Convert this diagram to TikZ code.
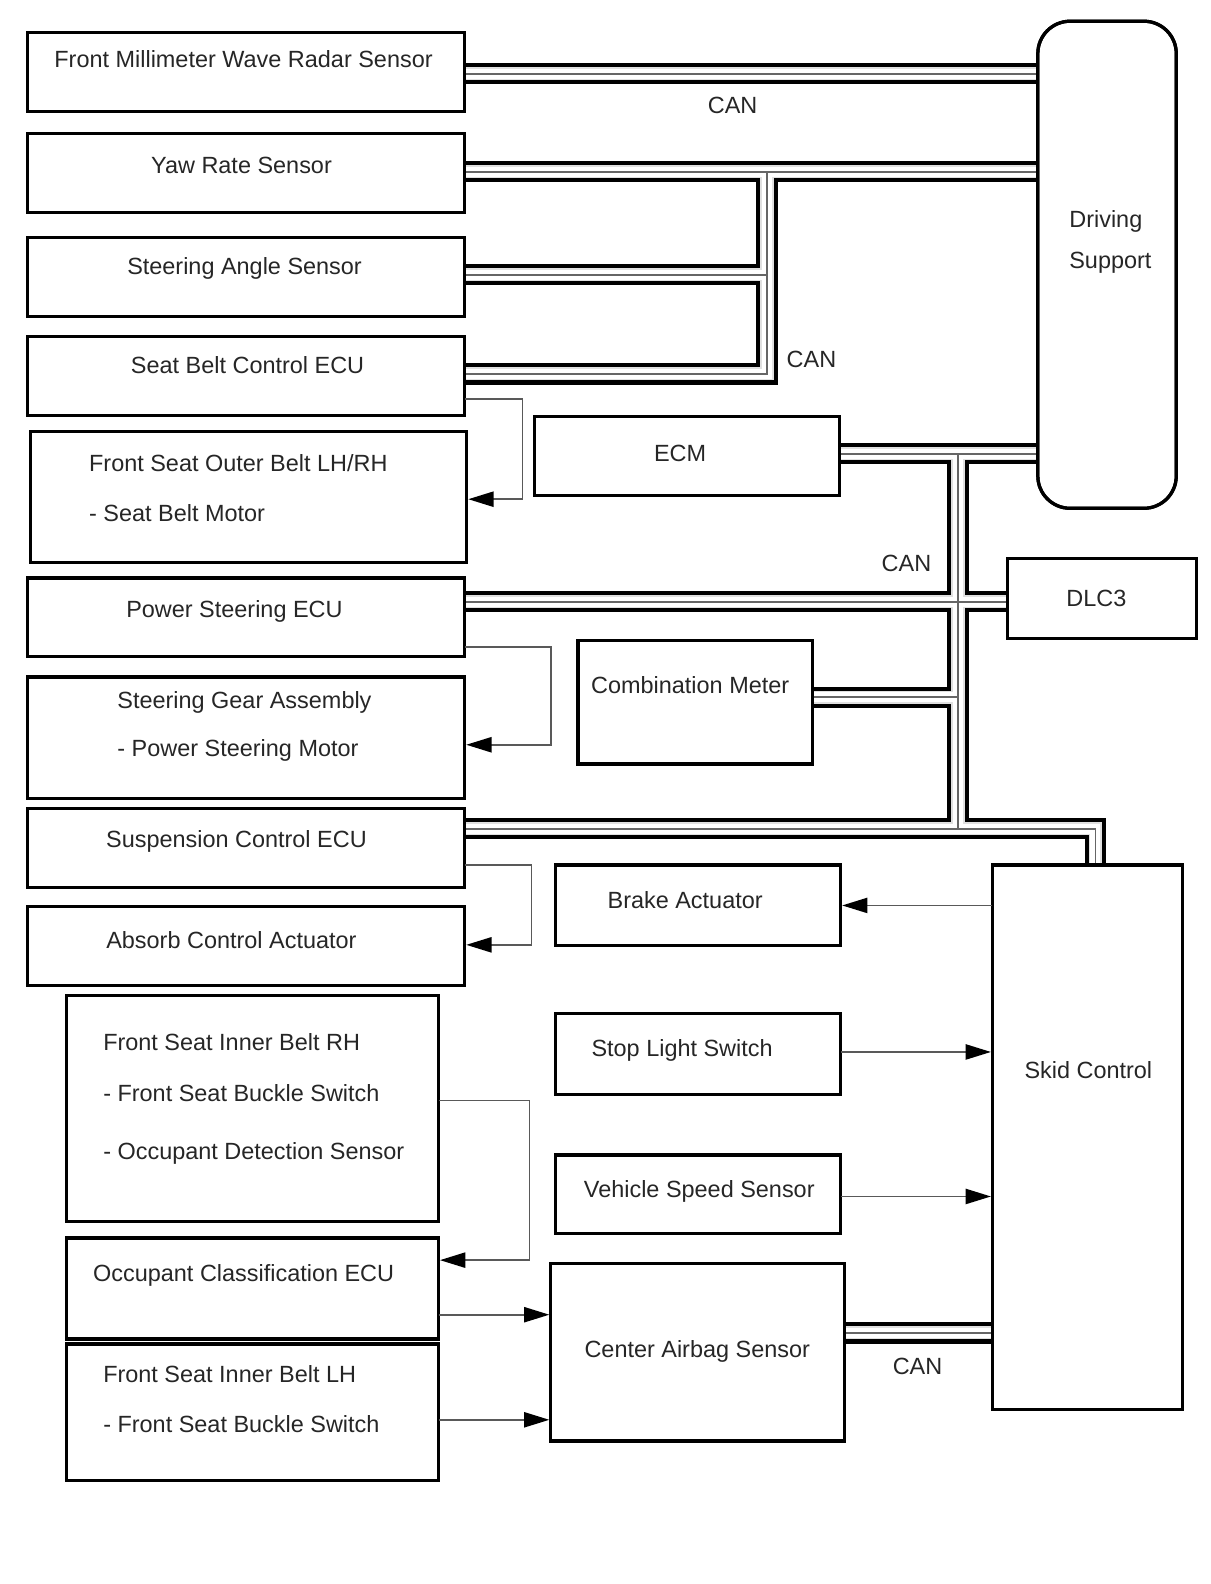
\documentclass[tikz,border=0pt]{standalone}
\usepackage{fontspec}
\setmainfont{Liberation Sans}
\usetikzlibrary{arrows.meta}
\newcommand\bx[6][]{\node[box,#1,minimum width={#5pt-#3pt},minimum height={#6pt-#4pt}] (#2) at (#3,#4) {};}
\newcommand\canbus[1]{%
  \draw[line width=21pt,black] #1;
  \draw[line width=13pt,black!12] #1;
  \draw[line width=10pt,white] #1;
  \draw[line width=1.8pt,black!60] #1;}
\begin{document}
\begin{tikzpicture}[x=1pt,y=-1pt,
  box/.style={draw=black,line width=3.2pt,rectangle,inner sep=0pt,outer sep=0pt,anchor=north west},
  lbl/.style={font=\fontsize{23.2}{28}\selectfont,inner sep=0pt,text=black!85},
  lblc/.style={lbl,anchor=base},
  lbll/.style={lbl,anchor=base west},
  conn/.style={draw=black!65,line width=1.8pt,shorten >=1.4pt,-{Triangle[length=25pt,width=15pt,color=black]}}]
\useasboundingbox (0,0) rectangle (1197.4,1567.5);
% coordinates for bus levels and connector corners
\coordinate (cA) at (0,73);
\coordinate (bB1) at (759,170);
\coordinate (bB2) at (759,272);
\coordinate (bB3) at (759,370);
\coordinate (cC1) at (948,449);
\coordinate (cC2) at (948,595.5);
\coordinate (cC3) at (948,690);
\coordinate (cC4) at (948,820);
\coordinate (cC5) at (1084,820);
\coordinate (cD) at (0,1319);
\coordinate (k1) at (517,395);   \coordinate (k1e) at (517,494);
\coordinate (k2) at (545,640);   \coordinate (k2e) at (545,737);
\coordinate (k3) at (526,856);   \coordinate (k3e) at (526,935);
\coordinate (k4) at (524,1089);  \coordinate (k4e) at (524,1247);
\coordinate (k5) at (0,1301);
\coordinate (k6) at (0,1405);
\coordinate (k7) at (0,896);
\coordinate (k8) at (0,1041);
\coordinate (k9) at (0,1184);
% boxes (drawn as named nodes)
\bx{fmw}{27}{32}{460}{110}
\bx{yaw}{27}{132}{460}{210}
\bx{sas}{27}{235}{460}{313}
\bx{sbc}{27}{333}{460}{411}
\bx{fso}{30}{427}{462}{557}
\bx{ps}{27}{572}{460}{650}
\bx{sga}{27}{670}{460}{790}
\bx{scu}{27}{800}{460}{878}
\bx{aca}{27}{897}{460}{975}
\bx{fsr}{66}{985}{434}{1209}
\bx{occ}{66}{1225}{434}{1325}
\bx{fsl}{66}{1330}{434}{1465}
\bx{ecm}{529}{412}{831}{490}
\bx{cm}{572}{634}{804}{756}
\bx{ba}{550}{856}{832}{936}
\bx{sls}{550}{1003}{832}{1083}
\bx{vss}{550}{1143}{832}{1221}
\bx{cab}{545}{1250}{836}{1426}
\bx[rounded corners=32pt]{ds}{1027}{21}{1164}{503}
\bx{dlc}{997}{553}{1184}{632}
\bx{skid}{982}{856}{1170}{1395}
% CAN buses
\canbus{(fmw.east |- cA) -- (ds.west |- cA)}
\canbus{(yaw.east |- bB1) -- (ds.west |- bB1) (sbc.east |- bB3) -- (bB3) -- (bB1) (sas.east |- bB2) -- (bB2)}
\canbus{(ecm.east |- cC1) -- (ds.west |- cC1) (cC1) -- (cC4) (ps.east |- cC2) -- (dlc.west |- cC2) (cm.east |- cC3) -- (cC3) (scu.east |- cC4) -- (cC5) -- (skid.north -| cC5)}
\canbus{(cab.east |- cD) -- (skid.west |- cD)}
% redraw box borders on top of bus ends
\foreach \n in {fmw,yaw,sas,sbc,ps,scu,ecm,cm,cab,dlc,skid}{\draw[line width=3.2pt] (\n.north west) rectangle (\n.south east);}
\draw[line width=3.2pt,rounded corners=32pt] (ds.north west) rectangle (ds.south east);
% arrows
\draw[conn] (sbc.east |- k1) -| (k1e) -- (fso.east |- k1e);
\draw[conn] (ps.east |- k2) -| (k2e) -- (sga.east |- k2e);
\draw[conn] (scu.east |- k3) -| (k3e) -- (aca.east |- k3e);
\draw[conn] (fsr.east |- k4) -| (k4e) -- (occ.east |- k4e);
\draw[conn] (occ.east |- k5) -- (cab.west |- k5);
\draw[conn] (fsl.east |- k6) -- (cab.west |- k6);
\draw[conn] (skid.west |- k7) -- (ba.east |- k7);
\draw[conn] (sls.east |- k8) -- (skid.west |- k8);
\draw[conn] (vss.east |- k9) -- (skid.west |- k9);
% texts
\node[lblc] (t1) at (241,67) {Front Millimeter Wave Radar Sensor};
\node[lblc] (t2) at (239,172) {Yaw Rate Sensor};
\node[lblc] (t3) at (242,272) {Steering Angle Sensor};
\node[lblc] (t4) at (245,370) {Seat Belt Control ECU};
\node[lbll] (t5) at (88,467) {Front Seat Outer Belt LH/RH};
\node[lbll] (t5b) at (88,516) {- Seat Belt Motor};
\node[lblc] (t6) at (232,611) {Power Steering ECU};
\node[lbll] (t7) at (116,701) {Steering Gear Assembly};
\node[lbll] (t7b) at (116,749) {- Power Steering Motor};
\node[lblc] (t8) at (234,839) {Suspension Control ECU};
\node[lblc] (t9) at (229,939) {Absorb Control Actuator};
\node[lbll] (t10) at (102,1040) {Front Seat Inner Belt RH};
\node[lbll] (t10b) at (102,1090) {- Front Seat Buckle Switch};
\node[lbll] (t10c) at (102,1147) {- Occupant Detection Sensor};
\node[lbll] (t11) at (92,1268) {Occupant Classification ECU};
\node[lbll] (t12) at (102,1368) {Front Seat Inner Belt LH};
\node[lbll] (t12b) at (102,1418) {- Front Seat Buckle Switch};
\node[lblc] (t13) at (673,457) {ECM};
\node[lblc] (t14) at (683,686) {Combination Meter};
\node[lblc] (t15) at (678,899) {Brake Actuator};
\node[lblc] (t16) at (675,1045) {Stop Light Switch};
\node[lblc] (t17) at (692,1185) {Vehicle Speed Sensor};
\node[lblc] (t18) at (690,1343) {Center Airbag Sensor};
\node[lbll] (t19) at (1058,225) {Driving};
\node[lbll] (t19b) at (1058,266) {Support};
\node[lblc] (t20) at (1085,600) {DLC3};
\node[lblc] (t21) at (1077,1067) {Skid Control};
\node[lblc] (can1) at (725,112) {CAN};
\node[lblc] (can2) at (803,364) {CAN};
\node[lblc] (can3) at (897,566) {CAN};
\node[lblc] (can4) at (908,1360) {CAN};
\end{tikzpicture}
\end{document}
